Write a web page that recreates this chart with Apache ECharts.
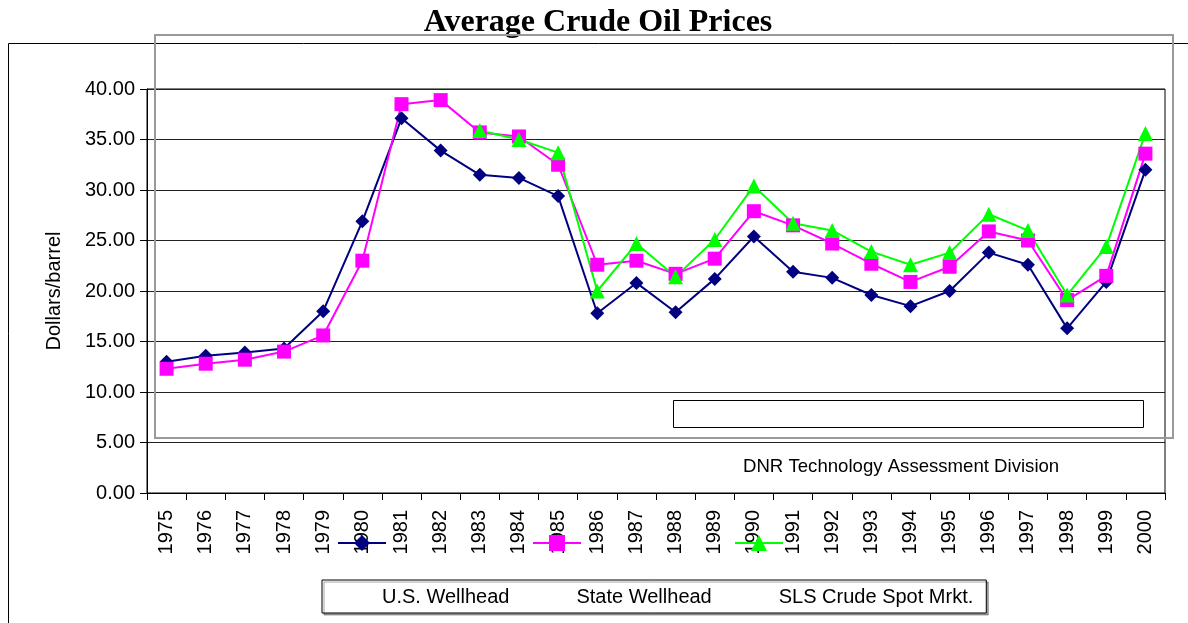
<!DOCTYPE html>
<html><head><meta charset="UTF-8">
<title>Average Crude Oil Prices</title>
<script src="https://cdn.jsdelivr.net/npm/echarts@6/dist/echarts.min.js"></script>
<style>
  html, body { margin: 0; padding: 0; background: #fff; }
  #g1 { width: 1188px; height: 623px; }
</style>
</head>
<body>
<div id="g1"></div>
<script type="text/javascript">
// chart data
var years = ['1975','1976','1977','1978','1979','1980','1981','1982','1983','1984','1985','1986','1987',
             '1988','1989','1990','1991','1992','1993','1994','1995','1996','1997','1998','1999','2000'];
var usWellhead = [13.0, 13.6, 13.9, 14.3, 18.0, 26.9, 37.1, 33.9, 31.5, 31.2, 29.4, 17.8, 20.8,
                  17.9, 21.2, 25.4, 21.9, 21.3, 19.6, 18.5, 20.0, 23.8, 22.6, 16.3, 20.9, 32.0];
var stateWellhead = [12.3, 12.8, 13.2, 14.0, 15.6, 23.0, 38.5, 38.9, 35.7, 35.3, 32.5, 22.6, 23.0,
                     21.7, 23.2, 27.9, 26.5, 24.7, 22.7, 20.9, 22.4, 25.9, 25.0, 19.1, 21.5, 33.6];
var slsSpot = [null, null, null, null, null, null, null, null, 35.9, 35.0, 33.7, 20.0, 24.7,
               21.4, 25.1, 30.4, 26.7, 26.0, 23.9, 22.6, 23.8, 27.6, 26.0, 19.6, 24.4, 35.6];
var seriesNames = ['U.S. Wellhead', 'State Wellhead', 'SLS Crude Spot Mrkt.'];

var font = '"Liberation Sans", Arial, sans-serif';

// legend icons sit up in the year labels, the names sit in the box below (as in the original)
function iconLegend(name, x) {
    return {
        data: [name], left: x, top: 533, padding: 0,
        itemWidth: 48, itemHeight: 20, selectedMode: false,
        formatter: function () { return ''; }
    };
}

var option = {
    backgroundColor: '#fff',
    animation: false,
    title: [
        { text: 'Average Crude Oil Prices', left: 598, top: 7, padding: 0, textAlign: 'center',
          textStyle: { fontFamily: '"Liberation Serif", "Times New Roman", serif', fontWeight: 'bold', fontSize: 32, color: '#000' } },
        { text: 'DNR Technology Assessment Division', left: 743, top: 457, padding: 0,
          textStyle: { fontFamily: font, fontWeight: 'normal', fontSize: 18.6, color: '#000' } }
    ],
    legend: [
        iconLegend(seriesNames[0], 337),
        iconLegend(seriesNames[1], 532),
        iconLegend(seriesNames[2], 734),
        {
            data: seriesNames, left: 322, top: 580,
            padding: [7, 13, 6, 55], itemGap: 62,
            itemWidth: 0, itemHeight: 0, icon: 'rect', selectedMode: false,
            borderColor: '#000', borderWidth: 1, backgroundColor: '#fff',
            shadowColor: 'rgba(0,0,0,0.35)', shadowOffsetX: 2, shadowOffsetY: 2, shadowBlur: 0,
            textStyle: { fontFamily: font, fontSize: 20, color: '#000', padding: 0 }
        }
    ],
    grid: { left: 147, right: 23, top: 89, bottom: 130, show: true, borderColor: '#000', borderWidth: 1 },
    xAxis: {
        type: 'category', data: years, boundaryGap: true,
        axisLine: { lineStyle: { color: '#000', width: 1 } },
        axisTick: { show: true, interval: 0, length: 7, lineStyle: { color: '#000' } },
        axisLabel: { interval: 0, rotate: 90, margin: 17, fontFamily: font, fontSize: 20, color: '#000' }
    },
    yAxis: {
        type: 'value', min: 0, max: 40, interval: 5,
        name: 'Dollars/barrel', nameLocation: 'middle', nameRotate: 90, nameGap: 83,
        nameTextStyle: { fontFamily: font, fontSize: 20, color: '#000' },
        axisLine: { show: true, lineStyle: { color: '#000', width: 1 } },
        axisTick: { show: true, length: 7, lineStyle: { color: '#000' } },
        axisLabel: { margin: 12, fontFamily: font, fontSize: 20, color: '#000',
                     formatter: function (v) { return v.toFixed(2); } },
        splitLine: { show: true, lineStyle: { color: '#222', width: 1 } }
    },
    series: [
        { name: seriesNames[0], type: 'line', data: usWellhead,
          symbol: 'diamond', symbolSize: 14, color: '#000080',
          lineStyle: { width: 2, color: '#000080' }, itemStyle: { color: '#000080' } },
        { name: seriesNames[1], type: 'line', data: stateWellhead,
          symbol: 'rect', symbolSize: 14, color: '#ff00ff',
          lineStyle: { width: 2, color: '#ff00ff' }, itemStyle: { color: '#ff00ff' } },
        { name: seriesNames[2], type: 'line', data: slsSpot,
          symbol: 'triangle', symbolSize: 15, color: '#00ff00',
          lineStyle: { width: 2, color: '#00ff00' }, itemStyle: { color: '#00ff00' } }
    ],
    graphic: [
        // outer chart frame (top and left edges only show)
        { type: 'polyline', silent: true, z: 0,
          shape: { points: [[8.5, 623], [8.5, 43.5], [1188, 43.5]] },
          style: { stroke: '#000', lineWidth: 1, fill: null } },
        // stray grey selection box over the plot
        { type: 'rect', silent: true, z: 100,
          shape: { x: 155, y: 35, width: 1018, height: 403 },
          style: { stroke: '#999', lineWidth: 2, fill: null } },
        // empty text box
        { type: 'rect', silent: true, z: 100,
          shape: { x: 673.5, y: 400.5, width: 470, height: 27 },
          style: { stroke: '#000', lineWidth: 1, fill: '#fff' } }
    ]
};

var myChart = echarts.init(document.getElementById('g1'));
myChart.setOption(option);
</script>
</body></html>
